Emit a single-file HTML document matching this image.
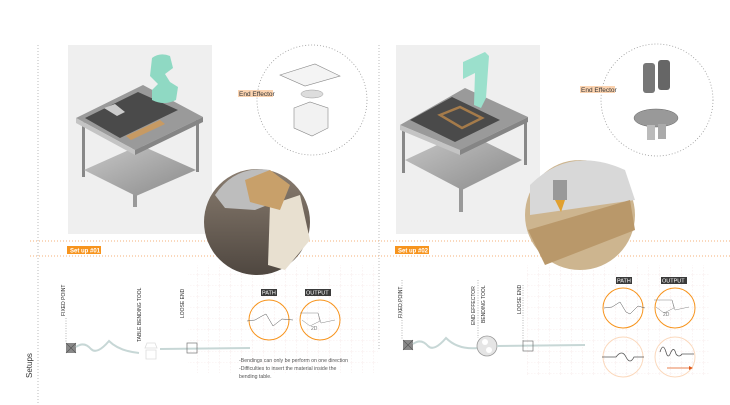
<!DOCTYPE html>
<html><head><meta charset="utf-8"><style>
html,body{margin:0;padding:0;background:#fff;}
svg{display:block;font-family:"Liberation Sans",sans-serif;}
</style></head><body>
<svg width="730" height="405" viewBox="0 0 730 405" xmlns="http://www.w3.org/2000/svg">
<defs>
<pattern id="grid" width="11" height="11" patternUnits="userSpaceOnUse">
<path d="M11 0V11M0 11H11" stroke="#f1d9d9" stroke-width="0.6" stroke-dasharray="1.5 1.5" fill="none"/>
</pattern>
<linearGradient id="floor" x1="0" y1="0" x2="0" y2="1"><stop offset="0" stop-color="#8a7d70"/><stop offset="1" stop-color="#4f4740"/></linearGradient>
<linearGradient id="shelf" x1="0" y1="0" x2="1" y2="1"><stop offset="0" stop-color="#c8c8c8"/><stop offset="1" stop-color="#8a8a8a"/></linearGradient>
</defs>
<line x1="38" y1="45" x2="38" y2="415" stroke="#bbb" stroke-width="1" stroke-dasharray="1 2"/>
<line x1="379" y1="45" x2="379" y2="350" stroke="#bbb" stroke-width="1" stroke-dasharray="1 2"/>
<line x1="30" y1="241" x2="730" y2="241" stroke="#f5b27a" stroke-width="1" stroke-dasharray="1 2"/>
<line x1="30" y1="256" x2="730" y2="256" stroke="#f5b27a" stroke-width="1" stroke-dasharray="1 2"/>
<rect x="188" y="265" width="190" height="108" fill="url(#grid)"/>
<rect x="527" y="265" width="183" height="110" fill="url(#grid)"/>

<!-- LEFT panel -->
<rect x="68" y="45" width="144" height="189" fill="#efefef"/>
<g>
<rect x="82" y="122" width="3" height="55" fill="#888"/>
<rect x="133" y="150" width="4" height="57" fill="#999"/>
<rect x="196" y="120" width="3" height="52" fill="#888"/>
<polygon points="84,170 140,145 196,170 136,196" fill="url(#shelf)"/>
<polygon points="76,118 143,85 203,117 135,150" fill="#9a9a9a"/>
<polygon points="85,118 138,92 178,110 120,138" fill="#4a4a4a"/>
<polygon points="76,118 135,150 135,155 76,123" fill="#c4c4c4"/>
<polygon points="135,150 203,117 203,122 135,155" fill="#858585"/>
<polygon points="104,108 115,104 125,112 117,116" fill="#ccc"/>
<polygon points="126,136 160,120 165,124 131,140" fill="#c79a63"/>
<path d="M152,58 q8,-6 18,-2 l3,12 l-8,6 l5,8 l8,5 l-2,13 q-12,6 -24,0 l0,-10 l6,-6 l-8,-8 z" fill="#8fd9c3"/>
</g>
<circle cx="312" cy="100" r="55" fill="none" stroke="#999" stroke-width="0.8" stroke-dasharray="1 2"/>
<rect x="238" y="90" width="35" height="7" fill="#fbd3b0"/>
<text x="239" y="96" font-size="6.5" fill="#333">End Effector</text>
<polygon points="280,75 315,64 340,76 305,86" fill="#f4f4f4" stroke="#888" stroke-width="0.6"/>
<ellipse cx="312" cy="94" rx="11" ry="4" fill="#ddd" stroke="#999" stroke-width="0.5"/>
<polygon points="294,108 310,102 328,108 328,128 312,136 294,128" fill="#f2f2f2" stroke="#888" stroke-width="0.6"/>
<circle cx="257" cy="222" r="53" fill="url(#floor)"/>
<path d="M215,195 q20,-30 55,-25 l10,30 l-25,10 l-30,-2 z" fill="#bdbdbd"/>
<polygon points="270,205 300,195 310,240 285,270 268,265" fill="#e8e0d0"/>
<path d="M245,180 l25,-10 l20,15 l-10,25 l-30,-8z" fill="#c8a06a"/>

<!-- RIGHT panel -->
<rect x="396" y="45" width="144" height="189" fill="#efefef"/>
<g>
<rect x="402" y="128" width="3" height="45" fill="#888"/>
<rect x="459" y="152" width="4" height="60" fill="#999"/>
<rect x="524" y="120" width="3" height="45" fill="#888"/>
<polygon points="405,160 465,132 522,160 462,190" fill="url(#shelf)"/>
<polygon points="400,125 465,88 528,117 460,150" fill="#9a9a9a"/>
<polygon points="410,120 452,97 500,120 455,142" fill="#4a4a4a"/>
<polygon points="400,125 460,150 460,155 400,130" fill="#c4c4c4"/>
<polygon points="460,150 528,117 528,122 460,155" fill="#858585"/>
<polygon points="440,115 460,107 482,118 462,128" fill="none" stroke="#a57b4a" stroke-width="2.5"/>
<path d="M463,62 l22,-10 l4,4 l-3,42 l-5,10 l-7,-3 l1,-32 l-12,6 z" fill="#9be0cc"/>
</g>
<circle cx="657" cy="100" r="56" fill="none" stroke="#999" stroke-width="0.8" stroke-dasharray="1 2"/>
<rect x="580" y="86" width="35" height="7" fill="#fbd3b0"/>
<text x="581" y="92" font-size="6.5" fill="#333">End Effector</text>
<rect x="643" y="63" width="12" height="30" rx="3" fill="#777"/>
<rect x="658" y="60" width="12" height="30" rx="3" fill="#666"/>
<ellipse cx="656" cy="118" rx="22" ry="9" fill="#999" stroke="#666" stroke-width="0.5"/>
<rect x="647" y="125" width="8" height="15" fill="#bbb"/>
<rect x="658" y="124" width="8" height="15" fill="#aaa"/>
<circle cx="580" cy="215" r="55" fill="#cdb58f"/>
<path d="M530,185 q40,-40 95,-15 l10,30 l-105,15 z" fill="#d8d8d8"/>
<polygon points="528,230 630,200 635,230 545,265" fill="#b9986a"/>
<rect x="553" y="180" width="14" height="20" fill="#999"/>
<polygon points="555,200 565,200 561,212" fill="#e0a030"/>

<rect x="67" y="246" width="34" height="8" fill="#f7941d"/>
<text x="70" y="252.5" font-size="6" fill="#fff" font-weight="bold">Set up #01</text>
<rect x="395" y="246" width="34" height="8" fill="#f7941d"/>
<text x="398" y="252.5" font-size="6" fill="#fff" font-weight="bold">Set up #02</text>

<text transform="translate(32,378) rotate(-90)" font-size="8" fill="#333">Setups</text>
<line x1="66" y1="318" x2="66" y2="343" stroke="#999" stroke-dasharray="1 1.5" stroke-width="0.7"/>
<text transform="translate(65,316) rotate(-90)" font-size="5" fill="#333">FIXED POINT</text>
<text transform="translate(141,342) rotate(-90)" font-size="5" fill="#333">TABLE BENDING TOOL</text>
<text transform="translate(184,318) rotate(-90)" font-size="5" fill="#333">LOOSE END</text>
<rect x="66" y="343" width="10" height="10" fill="#888"/>
<path d="M66,343l10,10M76,343l-10,10" stroke="#555" stroke-width="0.6"/>
<path d="M76,347 q8,-6 15,2 q6,6 18,-8 q10,10 30,12" fill="none" stroke="#c7d7d6" stroke-width="2"/>
<path d="M147,343 h8 l2,5 h-12z M146,350 h10 v9 h-10z" fill="none" stroke="#ddd" stroke-width="0.8"/>
<line x1="160" y1="349" x2="250" y2="348" stroke="#c7d7d6" stroke-width="2"/>
<rect x="187" y="343" width="10" height="10" fill="none" stroke="#777" stroke-width="0.7"/>
<rect x="261" y="289" width="16" height="7" fill="#3a3a3a"/>
<text x="262" y="294.5" font-size="5.5" fill="#fff">PATH</text>
<rect x="305" y="289" width="26" height="7" fill="#3a3a3a"/>
<text x="306" y="294.5" font-size="5.5" fill="#fff">OUTPUT</text>
<circle cx="269" cy="320" r="20" fill="none" stroke="#f7941d" stroke-width="1"/>
<circle cx="320" cy="320" r="20" fill="none" stroke="#f7941d" stroke-width="1"/>
<polyline points="247,321 255,320 262,316 266,314 273,326 282,319 293,320" fill="none" stroke="#555" stroke-width="0.5"/>
<path d="M300,313 h18 l2,8 l-10,5 l-8,-6 M318,313 l3,10 l14,-3" fill="none" stroke="#888" stroke-width="0.5"/>
<text x="311" y="330" font-size="5" fill="#777">2D</text>
<text x="239" y="362" font-size="5.2" fill="#555">-Bendings can only be perform on one  direction</text>
<text x="239" y="370" font-size="5.2" fill="#555">-Difficulties to insert the material inside the</text>
<text x="239" y="378" font-size="5.2" fill="#555">bending table.</text>

<line x1="402" y1="280" x2="402" y2="340" stroke="#999" stroke-dasharray="1 1.5" stroke-width="0.7"/>
<line x1="478" y1="280" x2="478" y2="338" stroke="#999" stroke-dasharray="1 1.5" stroke-width="0.7"/>
<line x1="523" y1="285" x2="523" y2="341" stroke="#999" stroke-dasharray="1 1.5" stroke-width="0.7"/>
<text transform="translate(402,318) rotate(-90)" font-size="5" fill="#333">FIXED POINT</text>
<text transform="translate(475,325) rotate(-90)" font-size="5" fill="#333">END EFFECTOR</text>
<text transform="translate(485,323) rotate(-90)" font-size="5" fill="#333">BENDING TOOL</text>
<text transform="translate(521,314) rotate(-90)" font-size="5" fill="#333">LOOSE END</text>
<rect x="403" y="340" width="10" height="10" fill="#888"/>
<path d="M403,340l10,10M413,340l-10,10" stroke="#555" stroke-width="0.6"/>
<path d="M413,344 q8,-6 15,2 q6,6 18,-8 q12,12 32,10" fill="none" stroke="#c7d7d6" stroke-width="2"/>
<circle cx="487" cy="346" r="10" fill="#e5e5e5" stroke="#999" stroke-width="0.8"/>
<circle cx="485" cy="342" r="3" fill="#fff"/><circle cx="489" cy="350" r="3" fill="#fff"/>
<line x1="497" y1="346" x2="585" y2="345" stroke="#c7d7d6" stroke-width="2"/>
<rect x="523" y="341" width="10" height="10" fill="none" stroke="#777" stroke-width="0.7"/>
<rect x="616" y="277" width="16" height="7" fill="#3a3a3a"/>
<text x="617" y="282.5" font-size="5.5" fill="#fff">PATH</text>
<rect x="661" y="277" width="26" height="7" fill="#3a3a3a"/>
<text x="662" y="282.5" font-size="5.5" fill="#fff">OUTPUT</text>
<circle cx="623" cy="308" r="20" fill="none" stroke="#f7941d" stroke-width="1"/>
<circle cx="675" cy="308" r="20" fill="none" stroke="#f7941d" stroke-width="1"/>
<polyline points="604,308 612,307 620,302 626,312 630,314 638,306 645,308" fill="none" stroke="#555" stroke-width="0.5"/>
<path d="M654,300 h18 l2,8 l-10,5 l-8,-6 M672,300 l3,10 l14,-3" fill="none" stroke="#888" stroke-width="0.5"/>
<text x="663" y="316" font-size="5" fill="#777">2D</text>
<circle cx="623" cy="357" r="20" fill="none" stroke="#fbd9bd" stroke-width="1"/>
<circle cx="675" cy="357" r="20" fill="none" stroke="#fbd9bd" stroke-width="1"/>
<path d="M602,357 h14 q6,-8 10,0 q4,8 8,0 h10" fill="none" stroke="#555" stroke-width="0.8"/>
<path d="M660,352 q3,-10 6,0 q2,8 5,0 q3,-6 5,2 q3,4 6,0 h12" fill="none" stroke="#555" stroke-width="0.8"/>
<line x1="667" y1="368" x2="689" y2="368" stroke="#e05a1a" stroke-width="0.8"/>
<polygon points="689,366 693,368 689,370" fill="#e05a1a"/>
</svg>
</body></html>
